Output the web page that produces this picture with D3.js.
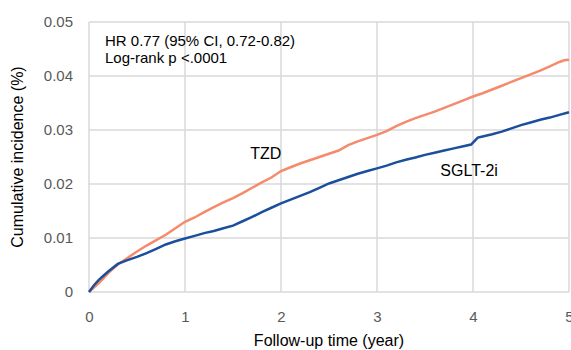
<!DOCTYPE html>
<html>
<head>
<meta charset="utf-8">
<script src="https://cdn.jsdelivr.net/npm/d3@7"></script>
<style>
  body { margin: 0; background: #fff; }
  svg { font-family: "Liberation Sans", Arial, sans-serif; }
</style>
</head>
<body>
<script>
// follow-up years and cumulative incidence
const tzdYears = [0, 0.05, 0.1, 0.15, 0.2, 0.3, 0.4, 0.5, 0.6, 0.7, 0.8, 0.9, 1.0, 1.1, 1.2, 1.3, 1.4, 1.5, 1.6, 1.7, 1.8, 1.9, 2.0, 2.1, 2.2, 2.3, 2.4, 2.5, 2.6, 2.7, 2.8, 2.9, 3.0, 3.1, 3.2, 3.3, 3.4, 3.5, 3.6, 3.7, 3.8, 3.9, 4.0, 4.1, 4.2, 4.3, 4.4, 4.5, 4.6, 4.7, 4.8, 4.9, 4.95, 5.0];
const tzdValues = [0, 0.0008, 0.0016, 0.0025, 0.0035, 0.0051, 0.0063, 0.0075, 0.0086, 0.0096, 0.0106, 0.0118, 0.0130, 0.0138, 0.0148, 0.0157, 0.0166, 0.0174, 0.0183, 0.0193, 0.0203, 0.0212, 0.0224, 0.0231, 0.0238, 0.0244, 0.0250, 0.0256, 0.0262, 0.0272, 0.0279, 0.0285, 0.0291, 0.0298, 0.0307, 0.0315, 0.0322, 0.0328, 0.0334, 0.0341, 0.0348, 0.0355, 0.0362, 0.0368, 0.0375, 0.0382, 0.0389, 0.0396, 0.0403, 0.0410, 0.0418, 0.0426, 0.0429, 0.0430];

const sgltYears = [0, 0.05, 0.1, 0.15, 0.2, 0.3, 0.4, 0.5, 0.6, 0.7, 0.8, 0.9, 1.0, 1.1, 1.2, 1.3, 1.4, 1.5, 1.6, 1.7, 1.8, 1.9, 2.0, 2.1, 2.2, 2.3, 2.4, 2.5, 2.6, 2.7, 2.8, 2.9, 3.0, 3.1, 3.2, 3.3, 3.4, 3.5, 3.6, 3.7, 3.8, 3.9, 3.98, 4.05, 4.1, 4.2, 4.3, 4.4, 4.5, 4.6, 4.7, 4.8, 4.9, 5.0];
const sgltValues = [0, 0.0012, 0.0022, 0.0030, 0.0038, 0.0052, 0.0059, 0.0065, 0.0072, 0.0080, 0.0088, 0.0094, 0.0099, 0.0104, 0.0109, 0.0113, 0.0118, 0.0123, 0.0131, 0.0139, 0.0148, 0.0156, 0.0164, 0.0171, 0.0178, 0.0185, 0.0193, 0.0201, 0.0207, 0.0213, 0.0219, 0.0224, 0.0229, 0.0234, 0.0240, 0.0245, 0.0249, 0.0254, 0.0258, 0.0262, 0.0266, 0.0270, 0.0273, 0.0286, 0.0288, 0.0292, 0.0297, 0.0303, 0.0309, 0.0314, 0.0319, 0.0323, 0.0328, 0.0333];

const xTicks = [0, 1, 2, 3, 4, 5];
const yTicks = [0, 0.01, 0.02, 0.03, 0.04, 0.05];
const seriesNames = ['TZD', 'SGLT-2i'];
const statLines = ['HR 0.77 (95% CI, 0.72-0.82)', 'Log-rank p <.0001'];

const width = 571, height = 350;
const plotLeft = 89, plotRight = 569, plotTop = 22, plotBottom = 292;

const svg = d3.select('body').append('svg')
    .attr('width', width)
    .attr('height', height);

const x = d3.scaleLinear().domain([0, 5]).range([plotLeft, plotRight]);
const y = d3.scaleLinear().domain([0, 0.05]).range([plotBottom, plotTop]);

//grid
svg.append('g')
    .selectAll('line')
    .data(yTicks)
    .join('line')
    .attr('x1', plotLeft).attr('x2', plotRight)
    .attr('y1', d => y(d)).attr('y2', d => y(d))
    .attr('stroke', '#d9d9d9').attr('stroke-width', 1.5);

svg.append('g')
    .selectAll('line')
    .data(xTicks)
    .join('line')
    .attr('x1', d => x(d)).attr('x2', d => x(d))
    .attr('y1', plotTop).attr('y2', plotBottom)
    .attr('stroke', '#d9d9d9').attr('stroke-width', 1.5);

//axes (labels only)
const yAxis = d3.axisLeft(y)
    .tickValues(yTicks)
    .tickSize(0)
    .tickPadding(16)
    .tickFormat(d => d === 0 ? '0' : d3.format('.2f')(d));

svg.append('g')
    .attr('transform', `translate(${plotLeft}, 0)`)
    .call(yAxis)
    .call(g => g.select('.domain').remove())
    .selectAll('text')
    .attr('fill', '#595959')
    .style('font-size', '15px')
    .style('font-family', '"Liberation Sans", Arial, sans-serif');

const xAxis = d3.axisBottom(x)
    .tickValues(xTicks)
    .tickSize(0)
    .tickPadding(19)
    .tickFormat(d3.format('d'));

svg.append('g')
    .attr('transform', `translate(0, ${plotBottom})`)
    .call(xAxis)
    .call(g => g.select('.domain').remove())
    .selectAll('text')
    .attr('fill', '#595959')
    .style('font-size', '15px')
    .style('font-family', '"Liberation Sans", Arial, sans-serif');

//axis titles
svg.append('text')
    .attr('x', 329)
    .attr('y', 346)
    .attr('text-anchor', 'middle')
    .style('font-size', '16px')
    .text('Follow-up time (year)');

svg.append('text')
    .attr('transform', `translate(23, ${(plotTop + plotBottom) / 2}) rotate(-90)`)
    .attr('text-anchor', 'middle')
    .style('font-size', '16px')
    .text('Cumulative incidence (%)');

//curves
const line = d3.line()
    .x(d => x(d[0]))
    .y(d => y(d[1]));

svg.append('path')
    .datum(tzdYears.map((t, i) => [t, tzdValues[i]]))
    .attr('d', line)
    .attr('fill', 'none')
    .attr('stroke', '#f58a6c')
    .attr('stroke-width', 2.5);

svg.append('path')
    .datum(sgltYears.map((t, i) => [t, sgltValues[i]]))
    .attr('d', line)
    .attr('fill', 'none')
    .attr('stroke', '#1b4f9c')
    .attr('stroke-width', 2.5);

//labels
svg.append('text')
    .attr('x', x(1.68))
    .attr('y', y(0.0247))
    .style('font-size', '16px')
    .text(seriesNames[0]);

svg.append('text')
    .attr('x', x(3.66))
    .attr('y', y(0.0214))
    .style('font-size', '16px')
    .text(seriesNames[1]);

svg.append('g')
    .selectAll('text')
    .data(statLines)
    .join('text')
    .attr('x', 105)
    .attr('y', (d, i) => 46 + i * 17)
    .style('font-size', '15px')
    .text(d => d);
</script>
</body>
</html>
